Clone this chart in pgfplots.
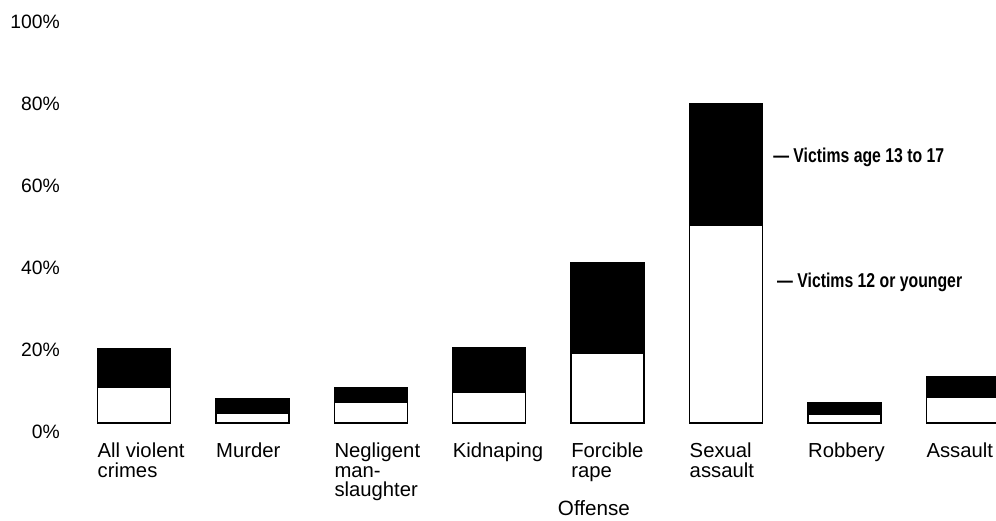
\documentclass[border=0pt]{standalone}
\usepackage{pgfplots}
\pgfplotsset{compat=1.18}
\usepackage{graphicx}
\usepackage{fontspec}
\setmainfont{Liberation Sans}
\begin{document}
\begin{tikzpicture}
\useasboundingbox (0,0) rectangle (747pt,390.75pt);
\clip (0,0) rectangle (747pt,390.75pt);
\begin{axis}[
  at={(49.5pt,73.5pt)}, anchor=south west,
  scale only axis, width=697.5pt, height=307.5pt,
  xmin=-0.5743, xmax=7.2804, ymin=0, ymax=100,
  enlargelimits=false, clip=false,
  axis line style={draw=none}, major tick length=0pt,
  ybar stacked, bar width=54.75pt,
  xtick={0,...,7},
  xticklabels={{All violent\\crimes},{Murder},{Negligent\\man-\\slaughter},{Kidnaping},{Forcible\\rape},{Sexual\\assault},{Robbery},{Assault}},
  xticklabel style={anchor=north west, align=left, inner sep=0pt, xshift=-27.4pt, yshift=-15pt, font=\fontsize{15.2}{14.6}\selectfont},
  ytick={0,20,40,60,80,100},
  yticklabels={0\%,20\%,40\%,60\%,80\%,100\%},
  yticklabel style={anchor=east, inner sep=0pt, xshift=-4.5pt, yshift=-6.75pt, font=\fontsize{14.5}{13.5}\selectfont},
]
\addplot[fill=white, draw=black, line width=1pt] coordinates {(0,8.8) (1,2.4) (2,5.1) (3,7.6) (4,17.1) (5,48.3) (6,2.0) (7,6.3)};
\addplot[fill=black, draw=black, line width=1pt] coordinates {(0,9.4) (1,3.5) (2,3.4) (3,10.7) (4,21.9) (5,29.5) (6,2.9) (7,4.9)};
\node[anchor=center, inner sep=0pt, font=\fontsize{15.5}{15.5}\selectfont] at (axis cs:3.885,-20.8) {Offense};
\node[anchor=west, inner sep=0pt] at (axis cs:5.397,64.9) {\scalebox{0.79}[1]{\fontsize{15}{15}\selectfont\bfseries --- Victims age 13 to 17}};
\node[anchor=west, inner sep=0pt] at (axis cs:5.43,34.4) {\scalebox{0.79}[1]{\fontsize{15}{15}\selectfont\bfseries --- Victims 12 or younger}};
\end{axis}
\end{tikzpicture}
\end{document}
